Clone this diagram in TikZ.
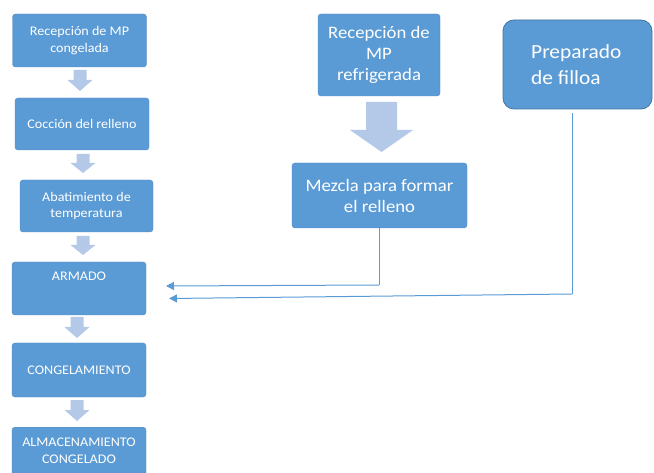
\documentclass[tikz,border=0pt]{standalone}
\usepackage{fontspec}
\setmainfont{Carlito}[FakeStretch=1.07]
\usetikzlibrary{arrows.meta}
\definecolor{boxblue}{HTML}{5B9BD5}
\definecolor{arrowblue}{HTML}{B4C8E8}
\begin{document}
\begin{tikzpicture}[x=1pt,y=-1pt,
  smallfont/.style={font=\fontsize{13.2}{16.5}\selectfont},
  stepbox/.style={fill=boxblue,draw=boxblue!90!black,line width=0.4pt,rounded corners=3pt,text=white,align=center,inner sep=0pt,smallfont},
  bigbox/.style={stepbox,font=\fontsize{17.5}{21}\selectfont},
  conn/.style={draw=boxblue,line width=1pt},
  connarrow/.style={conn,-{Triangle[length=8pt,width=8pt]}}
]
\useasboundingbox (0,0) rectangle (654,473);
\clip (0,0) rectangle (654,473);
% left column
\node[stepbox,minimum width=134pt,minimum height=53pt] (b1) at (79.5,40.5) {Recepción de MP\\congelada};
\node[stepbox,minimum width=134pt,minimum height=52pt] (b2) at (82,124) {Cocción del relleno};
\node[stepbox,minimum width=133pt,minimum height=52pt] (b3) at (86.5,206) {Abatimiento de\\temperatura};
\node[stepbox,minimum width=134pt,minimum height=53pt] (b4) at (79,288.5) {};
\node[smallfont,text=white] (b4t) at (79,276) {ARMADO};
\node[stepbox,minimum width=134pt,minimum height=54pt] (b5) at (79,370) {CONGELAMIENTO};
\node[stepbox,minimum width=134pt,minimum height=60pt,anchor=north] (b6) at (79,427) {};
\node[smallfont,text=white,align=center] (b6t) at (79,451) {ALMACENAMIENTO\\CONGELADO};
% block arrows left
\newcommand{\blockarr}[5]{% x, ytop, yhead, ybot, head half width
  \fill[arrowblue] (#1-6.5,#2) -- (#1+6.5,#2) -- (#1+6.5,#3) -- (#1+#5,#3) -- (#1,#4) -- (#1-#5,#3) -- (#1-6.5,#3) -- cycle;}
\blockarr{80}{70}{80}{91}{12.5}
\blockarr{83}{154}{163}{173}{12.5}
\blockarr{83}{236}{245}{255}{12.5}
\blockarr{77}{317}{327}{338}{12.5}
\blockarr{77}{400}{410}{421}{12.5}
% middle
\node[bigbox,minimum width=122pt,minimum height=82pt] (r1) at (379,55) {Recepción de\\MP\\refrigerada};
\fill[arrowblue] (366,102) -- (397,102) -- (397,130) -- (413,130) -- (381.5,152) -- (350,130) -- (366,130) -- cycle;
\node[bigbox,minimum width=175pt,minimum height=65pt] (mz) at (379.5,195.5) {Mezcla para formar\\el relleno};
% right
\node[fill=boxblue,draw=boxblue!75!black,line width=0.8pt,rounded corners=11pt,minimum width=149pt,minimum height=89pt,inner sep=0pt] (pf) at (577.5,64.5) {};
\node[text=white,align=left,anchor=west,inner sep=0pt,font=\fontsize{20}{26}\selectfont] (pft) at (531,65) {Preparado\\de filloa};
% connectors
\coordinate (c1) at (379,285);
\coordinate (a1) at (166,286);
\draw[conn] (mz.south -| c1) -- (c1);
\draw[connarrow] (c1) -- (a1);
\coordinate (c2) at (572,294);
\coordinate (a2) at (169,298.5);
\coordinate (p2) at (572,113);
\draw[conn] (p2) -- (c2);
\draw[connarrow] (c2) -- (a2);
\end{tikzpicture}
\end{document}
